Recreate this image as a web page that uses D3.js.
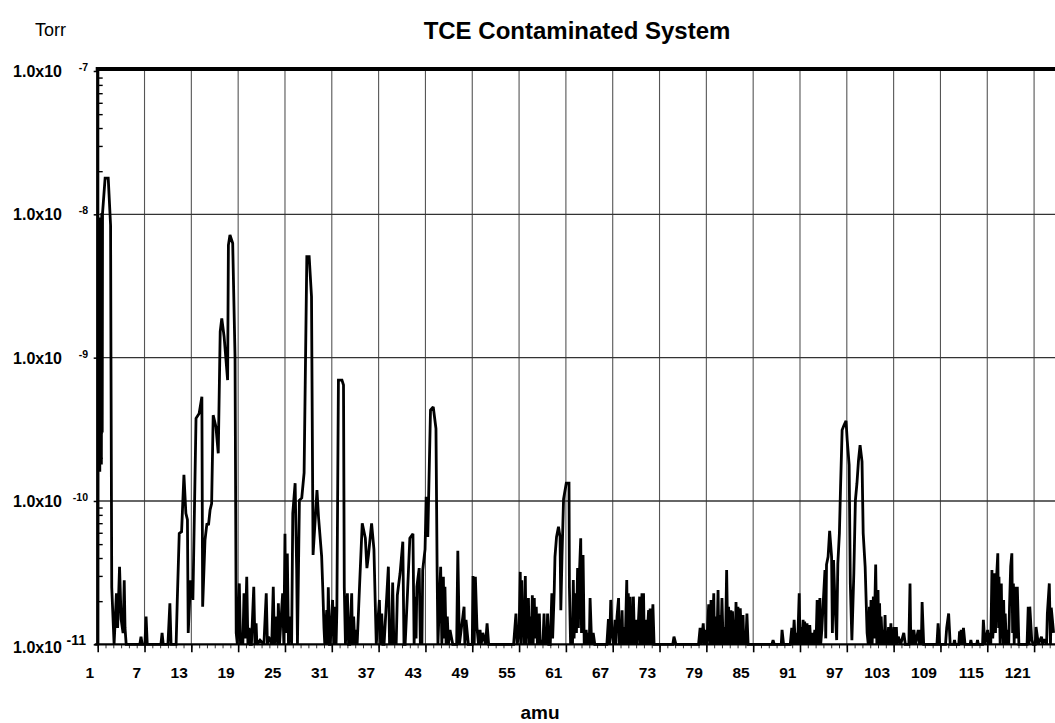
<!DOCTYPE html>
<html>
<head>
<meta charset="utf-8">
<script src="https://cdn.jsdelivr.net/npm/d3@7"></script>
<style>
  html, body { margin: 0; padding: 0; background: #fff; }
  svg { display: block; font-family: "Liberation Sans", Arial, Helvetica, sans-serif; }
</style>
</head>
<body>
<svg id="chart" width="1055" height="723"></svg>
<script>
// ---------------- data (amu, Torr) ----------------
const chartTitle = "TCE Contaminated System";
const yUnit = "Torr";
const xLabel = "amu";
const xTickValues = [1, 7, 13, 19, 25, 31, 37, 43, 49, 55, 61, 67, 73, 79, 85, 91, 97, 103, 109, 115, 121];
const yDecades = [-11, -10, -9, -8, -7];

const scanLow = [
  [1.0,1e-11],[1.02,1.6e-10],[1.06,9e-9],[1.1,1.7e-10],[1.14,8.5e-9],[1.18,2.5e-10],[1.22,9.5e-9],
  [1.27,1.6e-10],[1.32,8e-9],[1.37,2e-10],[1.42,9e-9],[1.47,1.8e-10],[1.52,1.02e-8],[1.58,3e-10],
  [1.62,1.02e-8],[1.95,1.79e-8],[2.35,1.79e-8],[2.65,8.4e-9],[2.7,1e-9],
  [2.8,2.5e-11],[3.1,1e-11],[3.4,2.27e-11],[3.55,1.3e-11],[3.8,3.48e-11],[4.0,1.5e-11],[4.25,1.2e-11],
  [4.4,2.8e-11],[4.5,1.3e-11],[4.65,1e-11],[6.4,1e-11],[6.55,1.13e-11],[6.7,1e-11],[7.05,1e-11],
  [7.2,1.56e-11],[7.35,1e-11],[9.1,1e-11],[9.25,1.2e-11],[9.4,1e-11],[10.0,1e-11],[10.25,1.93e-11],
  [10.4,1e-11],[11.05,1e-11],[11.2,2.04e-11],[11.45,5.94e-11],[11.75,6.1e-11],[12.05,1.52e-10],
  [12.3,8.2e-11],[12.5,7.4e-11],[12.6,1.2e-11],[12.9,2.8e-11],[13.2,2.04e-11],[13.6,3.77e-10],
  [14.0,4.08e-10],[14.35,5.33e-10],[14.45,1.83e-11],[14.75,5.33e-11],[15.0,6.98e-11],[15.2,6.8e-11],
  [15.4,8.65e-11],[15.6,9.6e-11],[15.8,3.97e-10],[16.15,3.3e-10],[16.45,2.15e-10],[16.7,1.52e-9],
  [16.9,1.88e-9],[17.2,1.4e-9],[17.65,6.98e-10],[17.75,6.1e-9],[17.95,7.18e-9],[18.3,6.28e-9],
  [18.6,1.01e-9],[18.75,1.2e-11],[18.9,1e-11],[19.15,2.66e-11],[19.3,1e-11],[19.45,1.2e-11],[19.6,1e-11],
  [19.75,2.27e-11],[19.9,1.1e-11],[20.1,2.96e-11],[20.25,1e-11],[20.4,1.3e-11],[20.55,1e-11]
];
const scanMid = [
  [20.7,1e-11],[21.0,2.52e-11],[21.15,1e-11],[21.3,1.4e-11],[21.4,1e-11],[21.8,1.07e-11],[22.3,1e-11],
  [22.6,2.27e-11],[22.75,1e-11],[22.9,1.13e-11],[23.3,1e-11],[23.5,2.52e-11],[23.65,1e-11],[23.95,1.56e-11],
  [24.05,1e-11],[24.15,1.93e-11],[24.3,1e-11],[24.7,2.27e-11],[24.85,1e-11],[25.0,5.9e-11],[25.1,1.2e-11],
  [25.3,4.3e-11],[25.45,1e-11],[25.75,1.56e-11],[25.85,1e-11],[26.0,8.2e-11],[26.3,1.33e-10],[26.5,3.3e-11],
  [26.6,1e-11],[26.85,1.01e-10],[27.15,1.05e-10],[27.45,1.57e-10],[27.8,5.06e-9],[28.1,5.06e-9],
  [28.4,2.66e-9],[28.6,4.2e-11],[29.1,1.19e-10],[29.3,7.7e-11],[29.7,4.1e-11],[29.85,2.4e-11],[30.0,1.3e-11],
  [30.1,1e-11],[30.35,1.73e-11],[30.45,1e-11],[30.55,2.5e-11],[30.7,1e-11],[30.8,1e-11],[31.1,2.04e-11],
  [31.25,1e-11],[31.4,1.83e-11],[31.55,1e-11],[31.65,1.73e-11],[31.85,6.98e-10],[32.3,6.98e-10],
  [32.5,6.44e-10],[32.6,2.5e-11],[32.75,1e-11],[33.0,2.27e-11],[33.15,1e-11],[33.3,1e-11],[33.55,2.27e-11],
  [33.65,1e-11],[33.8,1.56e-11],[33.95,1e-11],[34.1,1.26e-11],[34.25,1e-11],[34.55,2.5e-11],[34.9,6.98e-11],
  [35.3,5.5e-11],[35.5,3.4e-11],[35.7,4.2e-11],[36.1,6.98e-11],[36.4,4.6e-11],[36.7,1e-11],[37.1,2.04e-11],
  [37.25,1e-11],[37.4,1.64e-11],[37.55,1e-11],[37.7,1e-11],[38.25,3.48e-11],[38.4,1e-11],[38.5,1.26e-11],
  [38.65,1e-11],[38.8,2.7e-11],[38.95,1e-11],[39.1,1.2e-11],[39.25,1e-11],[39.4,2.2e-11],[39.75,3.13e-11],
  [40.1,5.2e-11],[40.25,1e-11],[40.4,1e-11],[40.7,2.27e-11],[41.0,5.5e-11],[41.4,5.9e-11],[41.55,1e-11],
  [41.7,2.15e-11],[41.8,1.1e-11],[41.9,2.52e-11],[42.2,3.4e-11],[42.35,1e-11],[42.45,1.64e-11],[42.55,1e-11],
  [42.65,3.3e-11],[42.95,4.6e-11],[43.1,1.07e-10],[43.3,5.6e-11],[43.65,4.31e-10],[44.0,4.54e-10],
  [44.35,3.2e-10],[44.5,3.2e-11],[44.6,1e-11],[44.95,3.48e-11],[45.1,1e-11],[45.3,2.96e-11],[45.4,1.1e-11],
  [45.5,2.52e-11],[45.65,1e-11],[45.8,1.56e-11],[45.95,1e-11],[46.15,1.26e-11],[46.5,1e-11],[47.0,1e-11],
  [47.15,4.5e-11],[47.35,1e-11],[47.95,1.83e-11],[48.05,1e-11],[48.2,1.48e-11],[48.5,1e-11],[49.0,1e-11],
  [49.1,3e-11],[49.25,1e-11],[49.4,2.96e-11],[49.6,1.32e-11],[49.8,1e-11],[50.0,1.26e-11],[50.15,1e-11],
  [50.35,1.2e-11]
];
const scanHigh = [
  [50.7,1e-11],[50.9,1.4e-11],[51.1,1e-11],[54.3,1e-11],[54.6,1.64e-11],[54.75,1e-11],[55.0,1.2e-11],
  [55.15,3.2e-11],[55.25,1e-11],[55.35,2.8e-11],[55.45,1.2e-11],[55.55,1.56e-11],[55.65,1e-11],[55.8,3e-11],
  [55.9,1e-11],[56.0,2.04e-11],[56.1,1.1e-11],[56.2,2.1e-11],[56.3,1e-11],[56.4,1.56e-11],[56.55,1e-11],
  [56.7,2.2e-11],[56.8,1e-11],[56.95,2.1e-11],[57.05,1.1e-11],[57.2,1.83e-11],[57.35,1e-11],[57.6,1.64e-11],
  [57.7,1e-11],[57.9,1.07e-11],[58.05,1e-11],[58.2,1.64e-11],[58.3,1e-11],[58.45,1.2e-11],[58.55,1e-11],
  [58.65,1.64e-11],[58.8,1e-11],[59.0,1e-11],[59.2,2.27e-11],[59.3,1.1e-11],[59.5,2.3e-11],[59.6,4.08e-11],
  [59.8,5.62e-11],[60.05,6.6e-11],[60.25,5.62e-11],[60.35,1.73e-11],[60.5,4.08e-11],[60.7,1.03e-10],
  [61.05,1.33e-10],[61.4,1.33e-10],[61.45,2.52e-11],[61.6,1e-11],[61.75,1.26e-11],[61.85,1e-11],
  [61.95,2.81e-11],[62.05,1.1e-11],[62.2,2.27e-11],[62.35,1.2e-11],[62.5,3.4e-11],[62.6,1.3e-11],
  [62.75,3.3e-11],[62.9,5.5e-11],[63.0,1.2e-11],[63.2,4.2e-11],[63.35,1e-11],[63.6,1.26e-11],[63.7,1e-11],
  [63.9,1.2e-11],[64.0,1e-11],[64.1,2.1e-11],[64.3,1e-11],[64.5,1.2e-11],[64.7,1e-11],[66.25,1e-11],
  [66.45,1.5e-11],[66.6,1e-11],[66.75,2.04e-11],[66.9,1.2e-11],[67.1,1e-11],[67.3,1.48e-11],[67.4,1e-11],
  [67.55,1.56e-11],[67.75,2.1e-11],[67.85,1e-11],[67.95,1.48e-11],[68.05,1e-11],[68.2,1.73e-11],[68.3,1e-11],
  [68.4,1.32e-11],[68.6,1e-11],[68.8,2.81e-11],[68.9,1e-11],[69.0,2.27e-11],[69.1,1e-11],[69.25,2.15e-11],
  [69.35,1e-11],[69.45,1.56e-11],[69.55,1e-11],[69.65,2.15e-11],[69.8,1e-11],[70.0,1.48e-11],[70.15,1e-11],
  [70.45,2.15e-11],[70.55,1e-11],[70.75,2.27e-11],[70.85,1e-11],[70.95,2.27e-11],[71.05,1e-11],
  [71.2,1.48e-11],[71.35,1e-11],[71.6,1.73e-11],[71.7,1e-11],[71.8,1.78e-11],[71.95,1e-11],[72.15,1.9e-11],
  [72.3,1e-11],[74.7,1e-11],[74.85,1.13e-11],[75.1,1e-11],[78.0,1e-11],[78.2,1.3e-11],[78.35,1e-11],
  [78.6,1.4e-11],[78.75,1e-11],[78.9,1.26e-11],[79.05,1e-11],[79.3,1.9e-11],[79.45,1e-11],[79.6,2.04e-11],
  [79.75,1e-11],[79.95,2.27e-11],[80.05,1e-11],[80.2,1.56e-11],[80.35,1e-11],[80.5,2.39e-11],[80.6,1e-11],
  [80.7,1.6e-11],[80.85,1e-11],[81.0,2.1e-11],[81.15,1e-11],[81.3,1.32e-11],[81.45,1e-11],[81.6,3.3e-11],
  [81.75,1e-11],[81.85,1.83e-11],[82.0,1e-11],[82.15,1.73e-11],[82.25,1e-11],[82.35,1.7e-11],[82.5,1e-11],
  [82.6,1.48e-11],[82.7,1e-11],[82.8,1.97e-11],[82.95,1e-11],[83.05,1.83e-11],[83.2,1e-11],[83.35,1.78e-11],
  [83.5,1e-11],[83.7,1.6e-11],[83.8,1e-11],[83.9,1.2e-11],[84.05,1e-11],[84.2,1.64e-11],[84.35,1e-11],
  [84.5,1e-11],[87.4,1e-11],[87.55,1.07e-11],[87.7,1e-11],[88.6,1e-11],[88.7,1.26e-11],[88.9,1e-11]
];
const scanTail = [
  [89.75,1e-11],[89.95,1.3e-11],[90.1,1e-11],[90.25,1.48e-11],[90.4,1e-11],[90.5,1.2e-11],[90.7,1e-11],
  [90.9,2.27e-11],[91.0,1e-11],[91.1,1.32e-11],[91.25,1e-11],[91.4,1.48e-11],[91.5,1e-11],[91.6,1.44e-11],
  [91.75,1e-11],[91.9,1.4e-11],[92.05,1e-11],[92.25,1.36e-11],[92.4,1e-11],[92.5,1.2e-11],[92.7,1e-11],
  [92.9,1.26e-11],[93.05,1e-11],[93.2,2.04e-11],[93.35,1e-11],[93.55,2.1e-11],[93.65,1e-11],[93.8,1.26e-11],
  [93.95,1.83e-11],[94.2,3.3e-11],[94.3,1.1e-11],[94.4,3.6e-11],[94.6,4.08e-11],[94.8,6.2e-11],
  [95.05,4.08e-11],[95.15,1.2e-11],[95.3,3.87e-11],[95.5,1.83e-11],[95.7,1.07e-11],
  [95.85,3.67e-11],[96.05,5.94e-11],[96.2,1.26e-10],[96.4,3.13e-10],[96.65,3.39e-10],[96.9,3.63e-10],
  [97.05,2.66e-10],[97.3,1.78e-10],[97.45,2.66e-11],[97.65,1.07e-11],[97.9,3.13e-11],[98.1,1.01e-10],
  [98.3,1.33e-10],[98.5,1.93e-10],[98.7,2.45e-10],[98.95,1.88e-10],[99.1,5.94e-11],[99.35,3.48e-11],
  [99.6,1.2e-11],[99.75,1e-11],[99.9,1.83e-11],[100.0,1e-11],[100.1,2.04e-11],[100.25,1e-11],
  [100.4,2.15e-11],[100.5,1.1e-11],[100.7,3.6e-11],[100.85,1e-11],[101.0,2.39e-11],[101.1,1e-11],
  [101.2,1.93e-11],[101.3,1e-11],[101.4,1.56e-11],[101.55,1e-11],[101.7,1.26e-11],[101.8,1e-11],
  [101.9,1.6e-11],[102.0,1e-11],[102.1,1.07e-11],[102.2,1e-11],[102.35,1.32e-11],[102.5,1e-11],
  [102.65,1.4e-11],[102.75,1e-11],[102.85,1.2e-11],[102.95,1e-11],[103.05,1.32e-11],[103.2,1e-11],
  [103.35,1.32e-11],[103.45,1e-11],[103.6,1.13e-11],[103.9,1e-11],
  [104.3,1.2e-11],[104.5,1e-11],[104.95,1e-11],[105.1,2.66e-11],[105.2,1e-11],[105.3,1.26e-11],[105.45,1e-11],
  [105.6,1.26e-11],[105.8,1e-11],[106.15,1.26e-11],[106.3,1e-11],[106.45,1.26e-11],[106.55,1e-11],
  [106.65,1.97e-11],[106.85,1e-11],[108.55,1e-11],
  [108.7,1.4e-11],[108.9,1e-11],[109.65,1e-11],[109.8,1.3e-11],[110.05,1.64e-11],[110.25,1e-11],
  [110.7,1e-11],[110.8,1.07e-11],[110.9,1e-11],[111.35,1e-11],[111.45,1.23e-11],[111.55,1e-11],[111.65,1.26e-11],
  [111.8,1e-11],[111.95,1.3e-11],[112.15,1e-11],[112.8,1e-11],[112.9,1.07e-11],[113.0,1e-11],[113.65,1e-11],
  [113.75,1.07e-11],[113.85,1e-11],[114.4,1e-11],[114.5,1.48e-11],[114.7,1e-11],[115.05,1.26e-11],
  [115.15,1e-11],[115.3,1.2e-11],[115.45,1e-11],[115.6,3.3e-11],[115.7,1.1e-11],[115.85,1.56e-11],
  [115.95,3.13e-11],[116.05,1.2e-11],[116.2,2.96e-11],[116.35,4.31e-11],[116.45,1.3e-11],[116.5,2.96e-11],
  [116.65,1e-11],[116.8,2.66e-11],[116.9,1.1e-11],[116.95,2.04e-11],[117.05,1e-11],[117.1,2.04e-11],
  [117.2,1e-11],[117.3,1.64e-11],[117.45,1e-11],[117.6,1.26e-11],[117.75,1e-11],[117.85,1.83e-11],
  [118.0,3.5e-11],[118.15,4.31e-11],[118.25,1.2e-11],[118.35,2.66e-11],[118.45,1e-11],[118.55,2.52e-11],
  [118.7,1.1e-11],[118.85,2.52e-11],[119.05,1e-11],[120.1,1e-11],[120.25,1.83e-11],[120.35,1e-11],
  [120.45,1.83e-11],[120.7,1.07e-11],[120.9,1e-11],[121.15,1e-11],[121.25,1.32e-11],[121.55,1e-11],
  [121.95,1.13e-11],[122.1,1e-11],[122.25,1.07e-11],[122.5,1.07e-11],[122.6,1e-11],[122.7,1.64e-11],
  [122.95,2.66e-11],[123.1,1e-11],[123.2,1.8e-11],[123.5,1.2e-11]
];
const scan = [...scanLow, ...scanMid, ...scanHigh, ...scanTail];

// ---------------- drawing ----------------
const W = 1055, H = 723;
const svg = d3.select("#chart");
const x = d3.scaleLinear().domain([1, 123.68]).range([97.7, 1055]);
const y = d3.scaleLog().domain([1e-11, 1e-7]).range([644.3, 71]);
const plotLeft = x(1), plotRight = W, plotTop = y(1e-7), plotBottom = y(1e-11);

// title & unit
svg.append("text").attr("x", 577).attr("y", 39).attr("text-anchor", "middle")
  .attr("font-size", 24).attr("font-weight", "bold").text(chartTitle);
svg.append("text").attr("x", 35).attr("y", 36)
  .attr("font-size", 18).text(yUnit);

// vertical grid
svg.append("g").selectAll("line").data(xTickValues.slice(1)).join("line")
  .attr("x1", d => x(d)).attr("x2", d => x(d))
  .attr("y1", plotTop).attr("y2", plotBottom)
  .attr("stroke", "#555").attr("stroke-width", 1.1);

// horizontal grid
svg.append("g").selectAll("line").data(yDecades.slice(1, -1)).join("line")
  .attr("x1", plotLeft).attr("x2", plotRight)
  .attr("y1", d => y(Math.pow(10, d))).attr("y2", d => y(Math.pow(10, d)))
  .attr("stroke", "#333").attr("stroke-width", 1.3);

// bottom axis: minor ticks
const minor = d3.range(1, 124);
svg.append("g").attr("transform", `translate(0,${plotBottom})`)
  .call(d3.axisBottom(x).tickValues(minor).tickSize(4).tickFormat(""))
  .call(g => g.select(".domain").remove())
  .call(g => g.selectAll("line").attr("stroke", "#333").attr("stroke-width", 1));
// bottom axis: major ticks + labels
const xAxis = svg.append("g").attr("transform", `translate(0,${plotBottom})`)
  .call(d3.axisBottom(x).tickValues(xTickValues).tickSize(8).tickFormat(d3.format("d")));
xAxis.select(".domain").remove();
xAxis.selectAll("line").attr("stroke", "#000").attr("stroke-width", 1.6);
xAxis.selectAll("text").attr("font-size", 15.5).attr("font-weight", "bold")
  .attr("font-family", "Liberation Sans, Arial, sans-serif").attr("fill", "#000")
  .attr("text-anchor", "end").attr("dx", -4).attr("y", 0).attr("dy", 34);

// bottom axis line
svg.append("line").attr("x1", plotLeft - 3).attr("x2", plotRight)
  .attr("y1", plotBottom).attr("y2", plotBottom).attr("stroke", "#000").attr("stroke-width", 2.2);

// x label
svg.append("text").attr("x", 540).attr("y", 719).attr("text-anchor", "middle")
  .attr("font-size", 19).attr("font-weight", "bold").text(xLabel);

// spectrum line
svg.append("defs").append("clipPath").attr("id", "plotclip").append("rect")
  .attr("x", plotLeft).attr("y", plotTop - 4).attr("width", plotRight - plotLeft).attr("height", plotBottom - plotTop + 6);
const line = d3.line().x(d => x(d[0])).y(d => y(Math.max(1e-11, d[1])));
svg.append("path").datum(scan).attr("d", line).attr("clip-path", "url(#plotclip)")
  .attr("fill", "none").attr("stroke", "#000").attr("stroke-width", 2.8)
  .attr("stroke-linejoin", "miter").attr("stroke-miterlimit", 2);

// left axis minor ticks (inside)
const minorY = [];
yDecades.slice(0, -1).forEach(e => { for (let k = 2; k <= 9; k++) minorY.push(k * Math.pow(10, e)); });
svg.append("g").attr("transform", `translate(${plotLeft},0)`)
  .call(d3.axisRight(y).tickValues(minorY).tickSize(5).tickFormat(""))
  .call(g => g.select(".domain").remove())
  .call(g => g.selectAll("line").attr("stroke", "#000").attr("stroke-width", 1.4));
// left axis major ticks (outside)
svg.append("g").attr("transform", `translate(${plotLeft},0)`)
  .call(d3.axisLeft(y).tickValues(yDecades.map(e => Math.pow(10, e))).tickSize(4).tickFormat(""))
  .call(g => g.select(".domain").remove())
  .call(g => g.selectAll("line").attr("stroke", "#000").attr("stroke-width", 1.5));

// left axis line & top frame line
svg.append("line").attr("x1", plotLeft).attr("x2", plotLeft)
  .attr("y1", plotTop - 4).attr("y2", plotBottom + 1).attr("stroke", "#000").attr("stroke-width", 3.2);
svg.append("line").attr("x1", plotLeft - 2).attr("x2", plotRight)
  .attr("y1", plotTop - 2).attr("y2", plotTop - 2).attr("stroke", "#000").attr("stroke-width", 4);

// y tick labels 1.0x10^e
const yl = svg.append("g").attr("font-weight", "bold");
yDecades.forEach(e => {
  const yy = y(Math.pow(10, e));
  const bottom = e === -11;
  yl.append("text").attr("x", 62).attr("y", yy + (bottom ? 9 : 6)).attr("text-anchor", "end")
    .attr("font-size", 16).text("1.0x10");
  yl.append("text").attr("x", bottom ? 86 : 88).attr("y", yy + (bottom ? 1 : 0)).attr("text-anchor", "end")
    .attr("font-size", bottom ? 14 : 10.5).text(String(e));
});
</script>
</body>
</html>
